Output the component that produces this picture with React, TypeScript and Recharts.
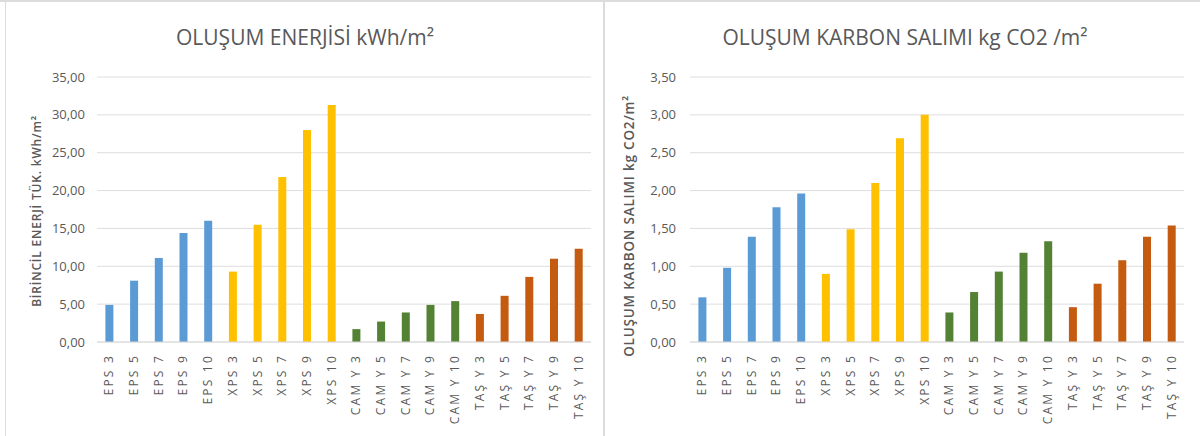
import { BarChart, Bar, XAxis, YAxis, CartesianGrid, Cell } from "recharts"

const categories = [
  "EPS 3", "EPS 5", "EPS 7", "EPS 9", "EPS 10",
  "XPS 3", "XPS 5", "XPS 7", "XPS 9", "XPS 10",
  "CAM Y 3", "CAM Y 5", "CAM Y 7", "CAM Y 9", "CAM Y 10",
  "TAŞ Y 3", "TAŞ Y 5", "TAŞ Y 7", "TAŞ Y 9", "TAŞ Y 10",
]

// kWh/m2
const energyValues = [
  4.9, 8.1, 11.1, 14.4, 16.0,
  9.3, 15.5, 21.8, 28.0, 31.3,
  1.7, 2.7, 3.9, 4.9, 5.4,
  3.7, 6.1, 8.6, 11.0, 12.3,
]

// kg CO2/m2
const carbonValues = [
  0.59, 0.98, 1.39, 1.78, 1.96,
  0.9, 1.49, 2.1, 2.69, 3.0,
  0.39, 0.66, 0.93, 1.18, 1.33,
  0.46, 0.77, 1.08, 1.39, 1.54,
]

const groupColors = ["#5b9bd5", "#ffc000", "#548235", "#c55a11"]

const energyTicks = [0, 5, 10, 15, 20, 25, 30, 35]
const carbonTicks = [0, 0.5, 1, 1.5, 2, 2.5, 3, 3.5]

const textColor = "#595959"
const font = "'Open Sans', sans-serif"

const fmt = (v: number) => v.toFixed(2).replace(".", ",")

function RotatedTick(props: any) {
  const { x, y, payload } = props
  return (
    <g transform={`translate(${x},${y + 10})`}>
      <text
        x={0}
        y={0}
        dy={4}
        textAnchor="end"
        transform="rotate(-90)"
        fill={textColor}
        fontSize={12}
        letterSpacing={2.2}
        fontFamily={font}
      >
        {payload.value}
      </text>
    </g>
  )
}

function ValueTick(props: any) {
  const { y, payload, right } = props
  return (
    <text x={right} y={y} dy={4.5} textAnchor="end" fill={textColor} fontSize={13} fontFamily={font}>
      {fmt(payload.value)}
    </text>
  )
}

function Panel(props: {
  title: string
  axisTitle: string
  axisTitleX: number
  axisTitleY: number
  axisTitleSize: number
  values: number[]
  ticks: number[]
  yWidth: number
  tickRight: number
  left: number
}) {
  const data = categories.map((name, i) => ({ name, value: props.values[i] }))
  const max = props.ticks[props.ticks.length - 1]
  return (
    <div style={{ position: "absolute", left: props.left, top: 0, width: 600, height: 436 }}>
      <div
        style={{
          position: "absolute",
          top: 23,
          left: 0,
          width: 610,
          textAlign: "center",
          fontFamily: font,
          fontSize: 21,
          color: textColor,
        }}
      >
        {props.title}
      </div>
      <div
        style={{
          position: "absolute",
          left: props.axisTitleX,
          top: props.axisTitleY,
          transform: "translate(-50%, -50%) rotate(-90deg)",
          whiteSpace: "nowrap",
          fontFamily: font,
          fontSize: props.axisTitleSize,
          fontWeight: 600,
          letterSpacing: 0.8,
          color: textColor,
          lineHeight: 1,
          zIndex: 1,
        }}
      >
        {props.axisTitle}
      </div>
      <BarChart
        width={600}
        height={436}
        data={data}
        margin={{ top: 77, right: 600 - props.yWidth - 494, bottom: 4, left: 0 }}
        barCategoryGap="34%"
      >
        <CartesianGrid vertical={false} stroke="#dedede" />
        <XAxis
          dataKey="name"
          interval={0}
          height={90}
          tickLine={false}
          tickSize={0}
          stroke="#d9d9d9"
          tick={<RotatedTick />}
        />
        <YAxis
          width={props.yWidth}
          domain={[0, max]}
          ticks={props.ticks}
          axisLine={false}
          tickLine={false}
          tick={<ValueTick right={props.tickRight} />}
        />
        <Bar dataKey="value" isAnimationActive={false}>
          {data.map((d, i) => (
            <Cell key={d.name} fill={groupColors[Math.floor(i / 5)]} />
          ))}
        </Bar>
      </BarChart>
    </div>
  )
}

export default function App() {
  return (
    <div style={{ position: "absolute", left: 0, top: 0, width: 1200, height: 436, background: "#fff", overflow: "hidden" }}>
      <div style={{ position: "absolute", left: 0, top: 0, width: 1200, height: 2, background: "#dcdcdc" }} />
      <div style={{ position: "absolute", left: 5, top: 0, width: 1, height: 436, background: "#dcdcdc" }} />
      <div style={{ position: "absolute", left: 603, top: 0, width: 2, height: 436, background: "#dcdcdc" }} />
      <Panel
        title="OLUŞUM ENERJİSİ kWh/m²"
        axisTitle="BİRİNCİL ENERJİ TÜK. kWh/m²"
        axisTitleX={37}
        axisTitleY={211}
        axisTitleSize={12}
        values={energyValues}
        ticks={energyTicks}
        yWidth={97}
        tickRight={85}
        left={0}
      />
      <Panel
        title="OLUŞUM KARBON SALIMI kg CO2 /m²"
        axisTitle="OLUŞUM KARBON SALIMI kg CO2/m²"
        axisTitleX={30}
        axisTitleY={226}
        axisTitleSize={13.5}
        values={carbonValues}
        ticks={carbonTicks}
        yWidth={90}
        tickRight={76}
        left={600}
      />
    </div>
  )
}
